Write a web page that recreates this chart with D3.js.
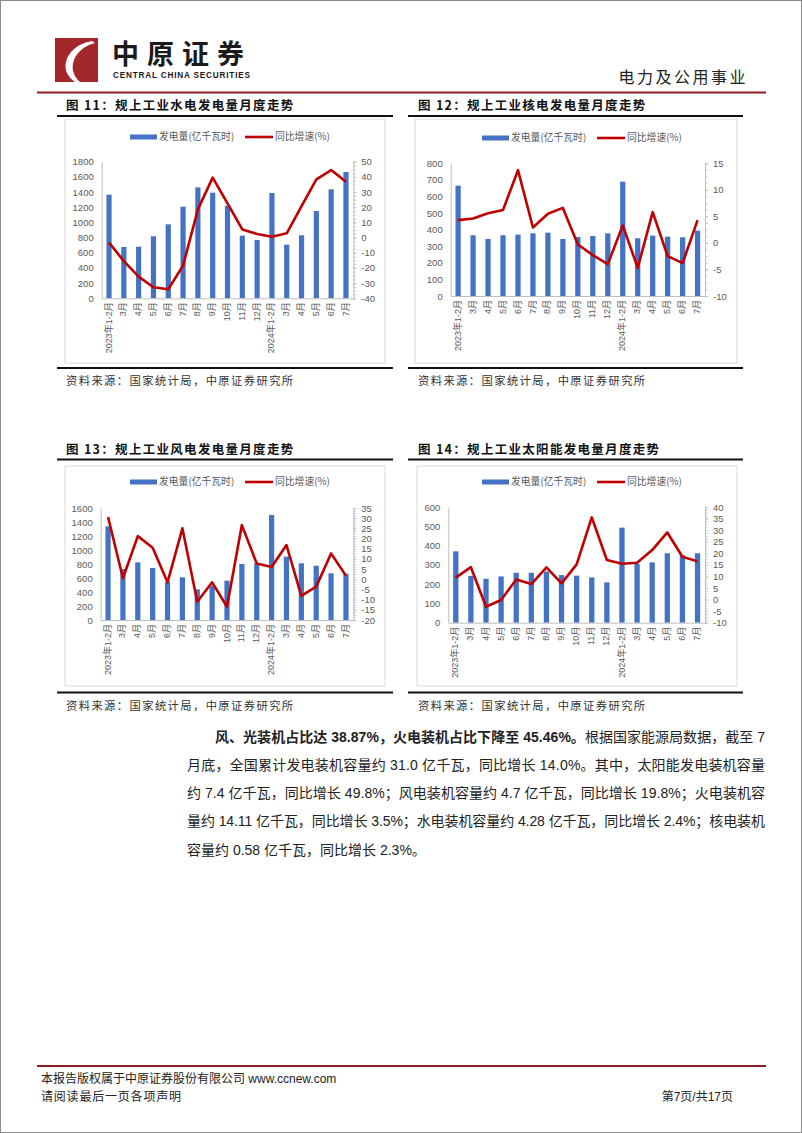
<!DOCTYPE html>
<html><head><meta charset="utf-8">
<script src="https://cdn.jsdelivr.net/npm/d3@7"></script>
<style>
html,body{margin:0;padding:0;background:#fff;}
svg{display:block;font-family:"Liberation Sans","Noto Sans CJK SC",sans-serif;}
</style></head><body>
<script>
// ---------- DATA ----------
const months = ["2023年1-2月","3月","4月","5月","6月","7月","8月","9月","10月","11月","12月","2024年1-2月","3月","4月","5月","6月","7月"];
const seriesNames = ["发电量(亿千瓦时)","同比增速(%)"];

const hydroGen = [1365,676,680,817,975,1207,1462,1392,1220,825,768,1387,707,830,1150,1436,1664];
const hydroYoY = [-3.3,-15.5,-25.7,-32.7,-34,-18.5,18.6,39.5,22.6,5.4,2.4,0.6,2.8,20.8,38.4,44.5,36.8];
const hydroLeftTicks = [0,200,400,600,800,1000,1200,1400,1600,1800];
const hydroRightTicks = [-40,-30,-20,-10,0,10,20,30,40,50];

const nuclearGen = [665,366,344,366,370,378,382,344,356,362,378,689,348,364,358,354,394];
const nuclearYoY = [4.3,4.6,5.6,6.2,13.7,2.9,5.5,6.6,-0.3,-2.3,-4.0,3.3,-4.7,5.8,-2.5,-3.8,4.3];
const nuclearLeftTicks = [0,100,200,300,400,500,600,700,800];
const nuclearRightTicks = [-10,-5,0,5,10,15];

const windGen = [1338,730,824,743,545,610,438,490,562,800,810,1500,905,810,776,667,662];
const windYoY = [30.6,0.5,21.2,15.5,-1.5,25,-11,-1.5,-13.5,26.6,7.7,6,16.8,-8.2,-3.6,12.7,1.8];
const windLeftTicks = [0,200,400,600,800,1000,1200,1400,1600];
const windRightTicks = [-20,-15,-10,-5,0,5,10,15,20,25,30,35];

const solarGen = [370,242,228,240,259,259,265,247,244,235,209,493,305,313,360,350,360];
const solarYoY = [9.5,14,-3.1,-0.2,8.7,6.7,13.9,7,15.2,35.5,17.1,15.5,15.9,21.4,29,18.5,16.5];
const solarLeftTicks = [0,100,200,300,400,500,600];
const solarRightTicks = [-10,-5,0,5,10,15,20,25,30,35,40];

const titles = ["图 11：规上工业水电发电量月度走势","图 12：规上工业核电发电量月度走势","图 13：规上工业风电发电量月度走势","图 14：规上工业太阳能发电量月度走势"];
const sourceText = "资料来源：国家统计局，中原证券研究所";

// ---------- PAGE ----------
const W = 802, H = 1133;
const svg = d3.select("body").append("svg").attr("width", W).attr("height", H);
svg.append("rect").attr("x",0.5).attr("y",0.5).attr("width",W-1).attr("height",H-1).attr("fill","#fff").attr("stroke","#8c8c8c");

const RED = "#C00000", BLUE = "#4472C4", DARKRED = "#8E1B1F";
const plainNum = d => String(d);

// header logo
const logo = svg.append("g");
logo.append("rect").attr("x",55).attr("y",38).attr("width",43).attr("height",44).attr("fill","#A3282C");
logo.append("path").attr("d","M92,41 C78,44 68,52 66,62 C64,70 68,77 75,82 L80,82 C73,76 71,68 74,60 C77,52 84,46 95,43 Z").attr("fill","#fff");
logo.append("path").attr("d","M70,54 C74,48 80,44 88,42 C82,47 77,51 74,57 Z").attr("fill","#fff");
svg.append("text").attr("x",112).attr("y",64).attr("font-size",27).attr("font-weight","bold").attr("letter-spacing",8)
  .attr("font-family","'Noto Sans CJK SC'").attr("fill","#1a1a1a").text("中原证券");
svg.append("text").attr("x",113).attr("y",78).attr("font-size",8.2).attr("font-weight","bold")
  .attr("font-family","'Liberation Sans Narrow','Liberation Sans'").attr("fill","#1a1a1a").attr("textLength",137).text("CENTRAL CHINA SECURITIES");
svg.append("text").attr("x",748).attr("y",83).attr("text-anchor","end").attr("font-size",16).attr("letter-spacing",2.5)
  .attr("font-family","'Noto Sans CJK SC'").attr("fill","#222").text("电力及公用事业");
svg.append("line").attr("x1",37).attr("x2",766).attr("y1",92.5).attr("y2",92.5).attr("stroke",DARKRED).attr("stroke-width",2);

// ---------- CHART FUNCTION ----------
function drawChart(o){
  const g = svg.append("g");
  g.append("text").attr("x",o.titleX).attr("y",o.titleY).attr("font-size",12.5).attr("font-weight","bold").attr("letter-spacing",1.3)
    .attr("font-family","'Noto Sans CJK SC'").attr("fill","#111").text(o.title);
  g.append("line").attr("x1",o.lineX0).attr("x2",o.lineX1).attr("y1",o.titleLineY).attr("y2",o.titleLineY).attr("stroke","#111").attr("stroke-width",2);
  g.append("rect").attr("x",o.box[0]).attr("y",o.box[1]).attr("width",o.box[2]-o.box[0]).attr("height",o.box[3]-o.box[1])
    .attr("fill","#fff").attr("stroke","#d9d9d9").attr("stroke-width",1);
  g.append("line").attr("x1",o.lineX0).attr("x2",o.lineX1).attr("y1",o.bottomLineY).attr("y2",o.bottomLineY).attr("stroke","#111").attr("stroke-width",2);
  g.append("text").attr("x",o.titleX).attr("y",o.bottomLineY+17).attr("font-size",11.3).attr("letter-spacing",1.4)
    .attr("font-family","'Noto Sans CJK SC'").attr("fill","#333").text(sourceText);

  const [px0,px1,py0,py1] = o.plot;
  const x = d3.scaleBand().domain(months.map((m,i)=>i)).range([px0,px1]).paddingInner(0.65).paddingOuter(0.32);
  const yL = d3.scaleLinear().domain([o.leftTicks[0], o.leftTicks[o.leftTicks.length-1]]).range([py1,py0]);
  const yR = d3.scaleLinear().domain([o.rightTicks[0], o.rightTicks[o.rightTicks.length-1]]).range([py1,py0]);

  g.append("g").selectAll("rect").data(o.gen).join("rect")
    .attr("x",(d,i)=>x(i)).attr("width",x.bandwidth())
    .attr("y",d=>yL(d)).attr("height",d=>yL(0)-yL(d)).attr("fill",BLUE);

  const axStyle = sel => {
    sel.selectAll(".domain").attr("stroke","#bfbfbf");
    sel.selectAll(".tick line").attr("stroke","#bfbfbf");
    sel.selectAll(".tick text").attr("fill","#595959").attr("font-size",9.5).attr("font-family","'Liberation Sans'");
  };
  g.append("g").attr("transform",`translate(${px0},0)`)
    .call(d3.axisLeft(yL).tickValues(o.leftTicks).tickSize(0).tickPadding(8).tickFormat(plainNum)).call(axStyle);
  const rStep = o.rightTicks[1]-o.rightTicks[0];
  const minor = d3.range(o.rightTicks[0], o.rightTicks[o.rightTicks.length-1]+1e-9, rStep/4);
  g.append("g").attr("transform",`translate(${px1},0)`)
    .call(d3.axisRight(yR).tickValues(minor).tickSize(2.5).tickFormat(""))
    .call(axStyle);
  g.append("g").attr("transform",`translate(${px1},0)`)
    .call(d3.axisRight(yR).tickValues(o.rightTicks).tickSize(3).tickPadding(5).tickFormat(plainNum)).call(axStyle)
    .call(s=>s.select(".domain").remove());
  const gb = g.append("g").attr("transform",`translate(0,${py1})`)
    .call(d3.axisBottom(x).tickSize(0).tickFormat(i=>months[i])).call(axStyle);
  gb.selectAll(".tick text").attr("transform","rotate(-90)").attr("text-anchor","end")
    .attr("dx","-4").attr("dy","-0.05em").attr("x",0).attr("y",0).style("dominant-baseline","central")
    .attr("font-family","'Liberation Sans','Noto Sans CJK SC'").attr("font-size",9);

  const line = d3.line().x((d,i)=>x(i)+x.bandwidth()/2).y(d=>yR(d));
  g.append("path").datum(o.yoy).attr("d",line).attr("fill","none").attr("stroke",RED).attr("stroke-width",2.6).attr("stroke-linejoin","round");

  const lg = g.append("g").attr("font-size",9.8).attr("fill","#595959").attr("font-family","'Noto Sans CJK SC'");
  lg.append("rect").attr("x",o.legendX).attr("y",o.legendY-2.5).attr("width",27).attr("height",5).attr("fill",BLUE);
  lg.append("text").attr("x",o.legendX+29).attr("y",o.legendY).attr("dy","0.35em").attr("fill","#595959").text(seriesNames[0]);
  lg.append("line").attr("x1",o.legendX+115).attr("x2",o.legendX+143).attr("y1",o.legendY).attr("y2",o.legendY).attr("stroke",RED).attr("stroke-width",2.6);
  lg.append("text").attr("x",o.legendX+145).attr("y",o.legendY).attr("dy","0.35em").attr("fill","#595959").text(seriesNames[1]);
}

drawChart({title:titles[0], titleX:66, titleY:110, titleLineY:116, lineX0:57, lineX1:393, bottomLineY:368,
  box:[65,119,385,363], plot:[101.7,353.3,161.7,298.3], legendX:130, legendY:137,
  gen:hydroGen, yoy:hydroYoY, leftTicks:hydroLeftTicks, rightTicks:hydroRightTicks});
drawChart({title:titles[1], titleX:418, titleY:110, titleLineY:116, lineX0:408, lineX1:743, bottomLineY:368,
  box:[415,119,737,363], plot:[450.7,705,163.3,296], legendX:482, legendY:138,
  gen:nuclearGen, yoy:nuclearYoY, leftTicks:nuclearLeftTicks, rightTicks:nuclearRightTicks});
drawChart({title:titles[2], titleX:66, titleY:454, titleLineY:459.5, lineX0:57, lineX1:393, bottomLineY:692.5,
  box:[65,466,385,686], plot:[100.7,353.3,508,620], legendX:130, legendY:482,
  gen:windGen, yoy:windYoY, leftTicks:windLeftTicks, rightTicks:windRightTicks});
drawChart({title:titles[3], titleX:418, titleY:454, titleLineY:459.5, lineX0:408, lineX1:743, bottomLineY:692.5,
  box:[417,466,737,686], plot:[448.3,705,507,622.7], legendX:482, legendY:482,
  gen:solarGen, yoy:solarYoY, leftTicks:solarLeftTicks, rightTicks:solarRightTicks});

// ---------- PARAGRAPH ----------
const para = svg.append("g").attr("font-size",14).attr("fill","#222").attr("font-family","'Liberation Sans','Noto Sans CJK SC'");
const t1 = para.append("text").attr("x",215).attr("y",742).attr("textLength",550).attr("lengthAdjust","spacing");
t1.append("tspan").attr("font-weight","bold").text("风、光装机占比达 38.87%，火电装机占比下降至 45.46%。");
t1.append("tspan").text("根据国家能源局数据，截至 7");
const bodyLines = [
  "月底，全国累计发电装机容量约 31.0 亿千瓦，同比增长 14.0%。其中，太阳能发电装机容量",
  "约 7.4 亿千瓦，同比增长 49.8%；风电装机容量约 4.7 亿千瓦，同比增长 19.8%；火电装机容",
  "量约 14.11 亿千瓦，同比增长 3.5%；水电装机容量约 4.28 亿千瓦，同比增长 2.4%；核电装机",
  "容量约 0.58 亿千瓦，同比增长 2.3%。"
];
bodyLines.forEach((s,i)=>{
  const t = para.append("text").attr("x",187).attr("y",770+i*28.2).text(s);
  if(i<3) t.attr("textLength",578).attr("lengthAdjust","spacing");
});

// ---------- FOOTER ----------
svg.append("line").attr("x1",37).attr("x2",766).attr("y1",1066).attr("y2",1066).attr("stroke",DARKRED).attr("stroke-width",2);
const ft = svg.append("g").attr("font-size",12).attr("fill","#222").attr("font-family","'Liberation Sans','Noto Sans CJK SC'");
ft.append("text").attr("x",41).attr("y",1083).text("本报告版权属于中原证券股份有限公司 www.ccnew.com");
ft.append("text").attr("x",41).attr("y",1101).attr("letter-spacing",0.8).text("请阅读最后一页各项声明");
ft.append("text").attr("x",733).attr("y",1101).attr("text-anchor","end").text("第7页/共17页");
</script>
</body></html>
